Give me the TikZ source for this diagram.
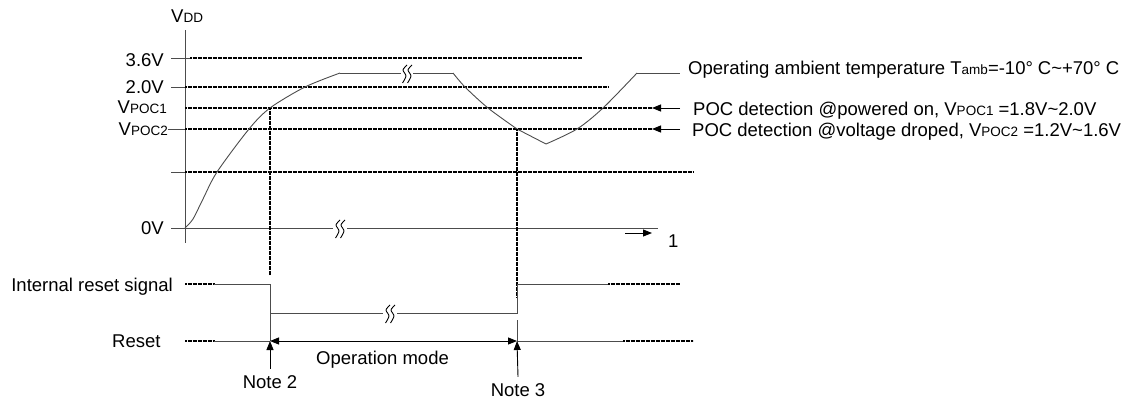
\documentclass[tikz,border=0pt]{standalone}
\usepackage{fontspec}
\setmainfont{Liberation Sans}
\usetikzlibrary{arrows.meta}
\newcommand{\sm}[1]{{\fontsize{13.5}{14}\selectfont #1}}
\tikzset{
  sig/.style={draw=black!70, line width=0.9pt},
  dotln/.style={draw=black, line width=1.8pt, dash pattern=on 0.9pt off 0.35pt},
  arr/.style={draw=black, line width=0.9pt, -{Triangle[length=9pt,width=7pt]}},
  arrs/.style={draw=black, line width=0.9pt, {Triangle[length=9pt,width=7pt]}-{Triangle[length=9pt,width=7pt]}},
  lbl/.style={inner sep=0pt, font=\fontsize{18.5}{20}\selectfont},
  brk/.pic={\foreach \d in {-2.5,2.5}
    \draw[black, line width=0.9pt] plot[smooth] coordinates {(\d+2.5,-8) (\d-1.5,-3) (\d+1.5,3) (\d-2,10)};}
}
\begin{document}
\begin{tikzpicture}[x=1pt,y=-1pt]
\useasboundingbox (0,0) rectangle (1147,399);
% labels
\node[lbl, anchor=base west] (vdd) at (171,22) {V\sm{DD}};
\node[lbl, anchor=base east] (v36) at (164,66) {3.6V};
\node[lbl, anchor=base east] (v20) at (164,93) {2.0V};
\node[lbl, anchor=base east] (vpoc1) at (167,113) {V\sm{POC1}};
\node[lbl, anchor=base east] (vpoc2) at (168,135) {V\sm{POC2}};
\node[lbl, anchor=base east] (v0) at (164,234) {0V};
\node[lbl, anchor=base east] (irs) at (173,291) {Internal reset signal};
\node[lbl, anchor=base west] (rst) at (112,347) {Reset};
\node[lbl, anchor=base west] (opm) at (316,364) {Operation mode};
\node[lbl, anchor=base] (note2) at (270,388) {Note 2};
\node[lbl, anchor=base] (note3) at (518,396) {Note 3};
\node[lbl, anchor=base west] (one) at (668,247) {1};
\node[lbl, anchor=base west] (tmp) at (688,74) {Operating ambient temperature T\sm{amb}=-10°\hspace{5pt}C\textasciitilde+70°\hspace{5pt}C};
\node[lbl, anchor=base west] (poc1) at (693,115) {POC detection @powered on, V\sm{POC1} =1.8V\textasciitilde2.0V};
\node[lbl, anchor=base west] (poc2) at (692,136) {POC detection @voltage droped, V\sm{POC2} =1.2V\textasciitilde1.6V};
% key points
\coordinate (on) at (270,108);
\coordinate (dn) at (517,129);
\coordinate (low) at (546,144);
\coordinate (top) at (637,73);
\coordinate (poc1tip) at (652,108);
\coordinate (poc1tail) at (680,108);
\coordinate (poc2tip) at (652,129);
\coordinate (poc2tail) at (680,129);
\coordinate (tmpend) at (680,73);
\coordinate (onetip) at (652,233);
\coordinate (onetail) at (625,233);
% axis and levels
\draw[sig] (185,30) -- (185,243);
\draw[sig] (171,58) -- (190,58);
\draw[dotln] (190,58) -- (582,58);
\draw[sig] (171,87) -- (185,87);
\draw[dotln] (185,87) -- (608,87);
\draw[dotln] (185,108) -- (poc1tip);
\draw[sig] (vpoc2.base east |- 0,129) -- (185,129);
\draw[dotln] (185,129) -- (poc2tip);
\draw[sig] (171,172) -- (185,172);
\draw[dotln] (185,172) -- (693,172);
\draw[sig] (171,228) -- (333,228) (347,228) -- (658,228);
\pic at (340,228) {brk};
\draw[arr] (onetail) -- (onetip);
\draw[arr] (poc1tail) -- (poc1tip);
\draw[arr] (poc2tail) -- (poc2tip);
% VDD curve
\draw[sig] plot[smooth] coordinates {(185,228) (193,219) (203,199) (217,172) (249,129) (on) (305,87) (340,73)};
\draw[sig] (340,73) -- (401,73) (413,73) -- (453,73);
\pic at (407,73) {brk};
\draw[sig] plot[smooth] coordinates {(453,73) (465,87) (488,108) (dn)};
\draw[sig] (dn) -- (low);
\draw[sig] plot[smooth] coordinates {(low) (577,129) (603,108) (top)};
\draw[sig] (top) -- (tmpend);
% detection marks
\draw[dotln] (on) -- (270,275);
\draw[dotln] (dn) -- (517,297);
% internal reset signal
\draw[dotln] (185,284) -- (214,284);
\draw[sig] (214,284) -- (270,284) -- (270,313) -- (383,313) (397,313) -- (517,313) -- (517,284) -- (608,284);
\pic at (390,313) {brk};
\draw[dotln] (608,284) -- (680,284);
% reset
\draw[dotln] (185,341) -- (214,341);
\draw[sig] (214,341) -- (270,341);
\draw[sig] (270,313) -- (270,341);
\draw[sig] (517,320) -- (517,341);
\draw[arrs] (270,341) -- (517,341);
\draw[sig] (517,341) -- (623,341);
\draw[dotln] (623,341) -- (693,341);
\draw[arr] ([yshift=6pt]note2.north) -- (270,341);
\draw[arr] ([yshift=6pt]note3.north) -- (517,341);
\end{tikzpicture}
\end{document}
